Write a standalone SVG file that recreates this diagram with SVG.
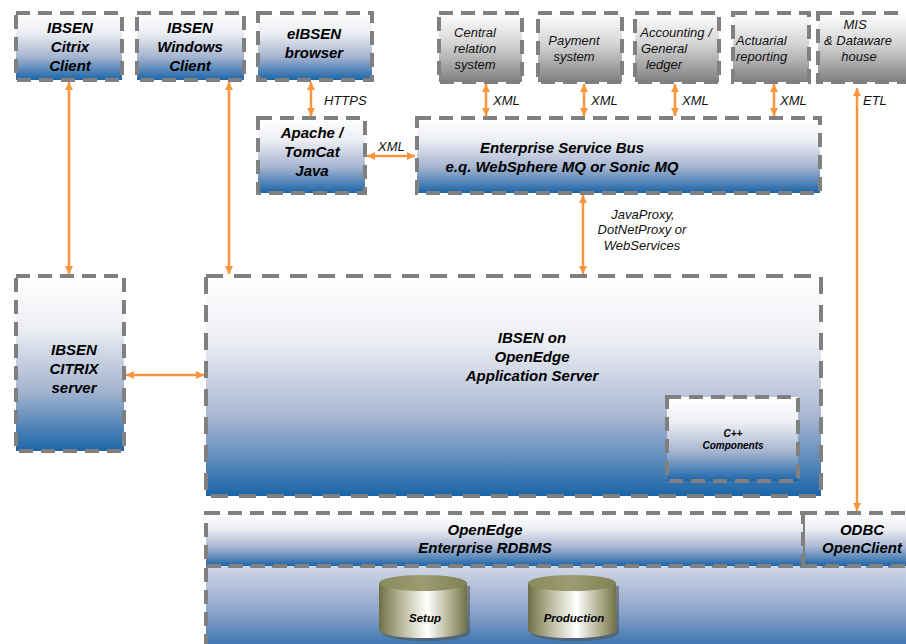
<svg xmlns="http://www.w3.org/2000/svg" width="906" height="644" viewBox="0 0 906 644">
<defs>
<linearGradient id="gBlue" x1="0" y1="0" x2="0" y2="1">
<stop offset="0" stop-color="#ffffff"/>
<stop offset="0.3" stop-color="#eceef3"/>
<stop offset="0.65" stop-color="#a6b5d0"/>
<stop offset="1" stop-color="#1b65a9"/>
</linearGradient>
<linearGradient id="gLow" x1="0" y1="0" x2="0" y2="1">
<stop offset="0" stop-color="#d2d8e5"/>
<stop offset="0.5" stop-color="#8ea5c9"/>
<stop offset="1" stop-color="#2167aa"/>
</linearGradient>
<linearGradient id="gGray" x1="0" y1="0" x2="0" y2="1">
<stop offset="0" stop-color="#ffffff"/>
<stop offset="0.45" stop-color="#d4d4d4"/>
<stop offset="1" stop-color="#808080"/>
</linearGradient>
<linearGradient id="gCyl" x1="0" y1="0" x2="1" y2="0">
<stop offset="0" stop-color="#6f6f46"/>
<stop offset="0.25" stop-color="#b8b89c"/>
<stop offset="0.55" stop-color="#ffffff"/>
<stop offset="0.8" stop-color="#b3b394"/>
<stop offset="1" stop-color="#727248"/>
</linearGradient>
<linearGradient id="gCylTop" x1="0" y1="0" x2="1" y2="0">
<stop offset="0" stop-color="#8a8a5e"/>
<stop offset="0.5" stop-color="#9c9c70"/>
<stop offset="1" stop-color="#808055"/>
</linearGradient>
<marker id="ah" viewBox="0 0 8 8" refX="8" refY="4" markerWidth="8" markerHeight="8" markerUnits="userSpaceOnUse" orient="auto-start-reverse">
<path d="M0,0 L8,4 L0,8 z" fill="#f7963c"/>
</marker>
</defs>
<style>
.bx{fill:url(#gBlue);stroke:#808080;stroke-width:4;stroke-dasharray:14 8}
.bxL{fill:url(#gBlue);stroke:#808080;stroke-width:4;stroke-dasharray:17 11}
.gx{fill:url(#gGray);stroke:#808080;stroke-width:4;stroke-dasharray:14 8}
.cn{fill:none;stroke:#f7963c;stroke-width:2.5;marker-start:url(#ah);marker-end:url(#ah)}
.t{font-family:"Liberation Sans",Arial,sans-serif;font-style:italic;font-weight:bold;font-size:15px;fill:#000;text-anchor:middle}
.s{font-family:"Liberation Sans",Arial,sans-serif;font-style:italic;font-size:13px;fill:#111}
.m{text-anchor:middle}
.c{font-family:"Liberation Sans",Arial,sans-serif;font-style:italic;font-weight:bold;font-size:10px;fill:#000;text-anchor:middle}
.d{font-family:"Liberation Sans",Arial,sans-serif;font-style:italic;font-weight:bold;font-size:11.5px;fill:#000;text-anchor:middle}
</style>

<g id="citrix-client">
<rect class="bx" x="16" y="13" width="106" height="67"/>
<text class="t" x="70" y="33">IBSEN</text>
<text class="t" x="70" y="52">Citrix</text>
<text class="t" x="70" y="71">Client</text>
</g>
<g id="windows-client">
<rect class="bx" x="137" y="13" width="107" height="67"/>
<text class="t" x="190" y="33">IBSEN</text>
<text class="t" x="190" y="52">Windows</text>
<text class="t" x="190" y="71">Client</text>
</g>
<g id="eibsen-browser">
<rect class="bx" x="258" y="13" width="114" height="67"/>
<text class="t" x="314" y="39">eIBSEN</text>
<text class="t" x="314" y="58">browser</text>
</g>
<g id="apache">
<rect class="bx" x="258" y="118" width="107" height="75"/>
<text class="t" x="312" y="138">Apache /</text>
<text class="t" x="312" y="157">TomCat</text>
<text class="t" x="312" y="176">Java</text>
</g>
<g id="central-relation">
<rect class="gx" x="439" y="13" width="83" height="69"/>
<text class="s m" x="475" y="37">Central</text>
<text class="s m" x="475" y="53">relation</text>
<text class="s m" x="475" y="69">system</text>
</g>
<g id="payment">
<rect class="gx" x="538" y="13" width="84" height="69"/>
<text class="s m" x="574" y="45">Payment</text>
<text class="s m" x="574" y="61">system</text>
</g>
<g id="accounting">
<rect class="gx" x="635" y="13" width="84" height="69"/>
<text class="s m" x="676" y="37">Accounting /</text>
<text class="s m" x="664" y="53">General</text>
<text class="s m" x="664" y="69">ledger</text>
</g>
<g id="actuarial">
<rect class="gx" x="733" y="13" width="76" height="69"/>
<text class="s" x="736" y="45">Actuarial</text>
<text class="s" x="736" y="61">reporting</text>
</g>
<g id="mis">
<rect class="gx" x="818" y="13" width="100" height="69"/>
<text class="s m" x="855" y="29">MIS</text>
<text class="s m" x="858" y="45">&amp; Dataware</text>
<text class="s m" x="859" y="61">house</text>
</g>
<g id="esb">
<rect class="bx" x="417" y="118" width="403" height="75"/>
<text class="t" x="562" y="153">Enterprise Service Bus</text>
<text class="t" x="562" y="172">e.q. WebSphere MQ or Sonic MQ</text>
</g>
<g id="citrix-server">
<rect class="bx" x="16" y="276" width="108" height="175"/>
<text class="t" x="74" y="355">IBSEN</text>
<text class="t" x="74" y="374">CITRIX</text>
<text class="t" x="74" y="393">server</text>
</g>
<g id="app-server">
<rect class="bxL" x="206" y="276" width="615" height="220"/>
<text class="t" x="532" y="343">IBSEN on</text>
<text class="t" x="532" y="362">OpenEdge</text>
<text class="t" x="532" y="381">Application Server</text>
</g>
<g id="cpp-components">
<rect class="bx" x="667" y="397" width="131" height="84"/>
<text class="c" x="733" y="437">C++</text>
<text class="c" x="733" y="449">Components</text>
</g>
<g id="database-area">
<rect x="206" y="566" width="710" height="90" fill="url(#gLow)" stroke="#808080" stroke-width="4" stroke-dasharray="14 8"/>
</g>
<g id="rdbms">
<rect class="bx" x="206" y="513" width="597" height="53"/>
<text class="t" x="485" y="535">OpenEdge</text>
<text class="t" x="485" y="553">Enterprise RDBMS</text>
</g>
<g id="odbc">
<rect x="803" y="513" width="110" height="53" fill="url(#gBlue)"/>
<path d="M803,513 H916 M803,566 H916" stroke="#808080" stroke-width="4" stroke-dasharray="14 8" fill="none"/>
<line x1="804" y1="513" x2="804" y2="566" stroke="#808080" stroke-width="2"/>
<text class="t" x="862" y="535">ODBC</text>
<text class="t" x="862" y="553">OpenClient</text>
</g>
<g id="setup-db">
<path d="M382,586 V633 A44,8 0 0 0 470,633 V586 Z" fill="#555" opacity="0.6"/>
<path d="M379,583 V630 A44,8 0 0 0 467,630 V583 Z" fill="url(#gCyl)"/>
<ellipse cx="423" cy="583" rx="44" ry="8" fill="url(#gCylTop)"/>
<text class="d" x="425" y="622">Setup</text>
</g>
<g id="production-db">
<path d="M531,586 V633 A44,8 0 0 0 619,633 V586 Z" fill="#555" opacity="0.6"/>
<path d="M528,583 V630 A44,8 0 0 0 616,630 V583 Z" fill="url(#gCyl)"/>
<ellipse cx="572" cy="583" rx="44" ry="8" fill="url(#gCylTop)"/>
<text class="d" x="574" y="622">Production</text>
</g>

<g id="connectors">
<line class="cn" x1="69" y1="82" x2="69" y2="274"/>
<line class="cn" x1="229" y1="82" x2="229" y2="274"/>
<line class="cn" x1="311" y1="82" x2="311" y2="116"/>
<line class="cn" x1="367" y1="156" x2="415" y2="156"/>
<line class="cn" x1="486" y1="84" x2="486" y2="116"/>
<line class="cn" x1="584" y1="84" x2="584" y2="116"/>
<line class="cn" x1="675" y1="84" x2="675" y2="116"/>
<line class="cn" x1="774" y1="84" x2="774" y2="116"/>
<line class="cn" x1="857" y1="88" x2="857" y2="511"/>
<line class="cn" x1="583" y1="195" x2="583" y2="274"/>
<line class="cn" x1="126" y1="375" x2="204" y2="375"/>
<text class="s" x="324" y="105">HTTPS</text>
<text class="s" x="378" y="151">XML</text>
<text class="s" x="493" y="105">XML</text>
<text class="s" x="591" y="105">XML</text>
<text class="s" x="682" y="105">XML</text>
<text class="s" x="780" y="105">XML</text>
<text class="s" x="863" y="105">ETL</text>
<text class="s m" x="643" y="219">JavaProxy,</text>
<text class="s m" x="642" y="234">DotNetProxy or</text>
<text class="s m" x="642" y="250">WebServices</text>
</g>
</svg>
